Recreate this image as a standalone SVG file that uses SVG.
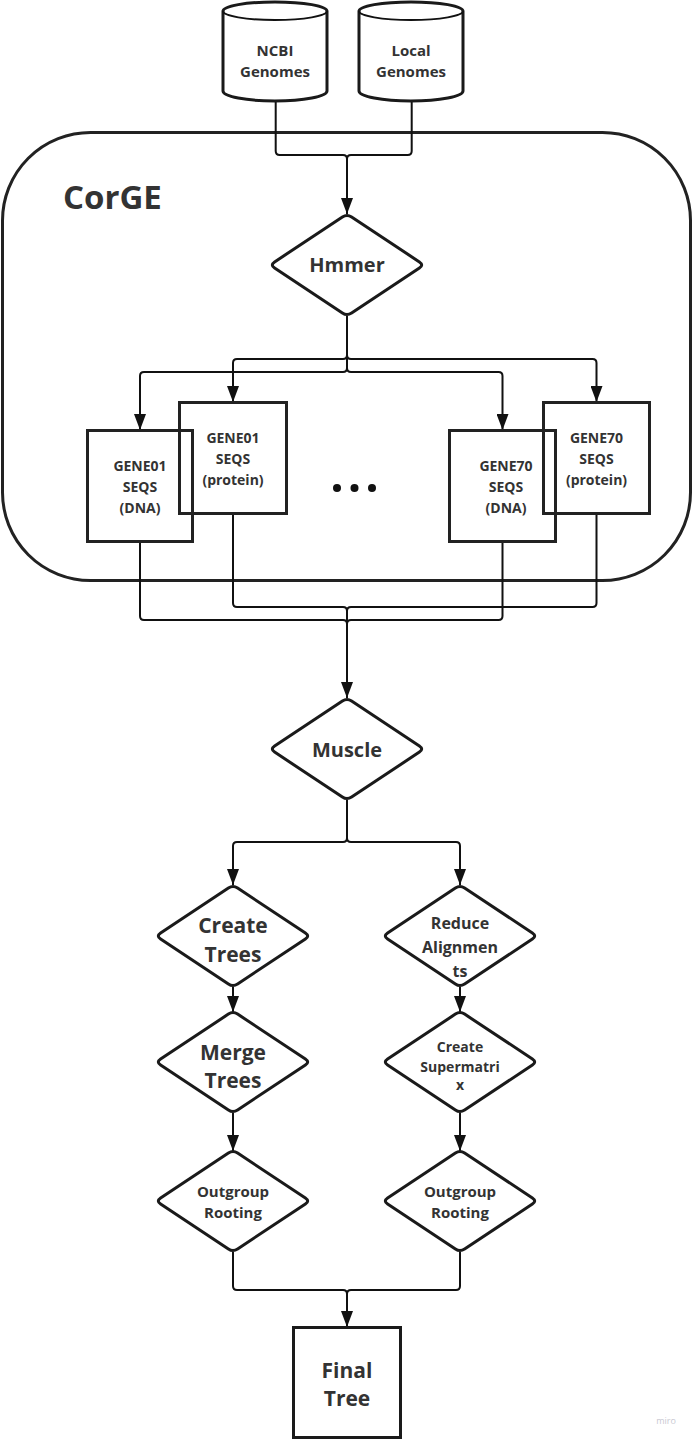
<svg xmlns="http://www.w3.org/2000/svg" xmlns:xlink="http://www.w3.org/1999/xlink" width="694" height="1440" viewBox="0 0 694 1440">
  <style>
    .shape { fill: none; stroke: #222; stroke-width: 3; }
    .filled { fill: #fff; stroke: #1a1a1a; stroke-width: 3; }
    .conn { fill: none; stroke: #111; stroke-width: 2; }
    .lbl { font-family: "Open Sans", "Liberation Sans", sans-serif; font-weight: 700; fill: #333; text-anchor: middle; }
    .s14 { font-size: 14px; }
    .s15 { font-size: 15px; }
    .s16 { font-size: 16px; }
    .s20 { font-size: 20px; }
    .s21 { font-size: 21px; }
  </style>
  <defs>
    <!-- decision shape with softened corners, centred on the origin -->
    <path id="dia" d="M4.6,-47.9 L72.4,-3.1 Q77,0 72.4,3.1 L4.6,47.9 Q0,51 -4.6,47.9 L-72.4,3.1 Q-77,0 -72.4,-3.1 L-4.6,-47.9 Q0,-51 4.6,-47.9 Z"/>
    <marker id="arrow" viewBox="0 0 16 12" refX="16" refY="6" markerWidth="16" markerHeight="12" markerUnits="userSpaceOnUse" orient="auto">
      <path d="M0,0 L16,6 L0,12 Z" fill="#111"/>
    </marker>
  </defs>

  <rect width="694" height="1440" fill="#fff"/>

  <!-- CorGE container -->
  <g id="corge">
    <rect x="2.5" y="132.5" width="688" height="448" rx="88" ry="88" class="shape" stroke="#1a1a1a"/>
    <text x="63" y="209" class="lbl" style="font-size:33px;text-anchor:start;">CorGE</text>
  </g>

  <!-- connectors -->
  <g id="connectors">
    <!-- genome sources into Hmmer -->
    <path class="conn" d="M275.7,102 V151 Q275.7,155 279.7,155 H343 Q347,155 347,159"/>
    <path class="conn" d="M411.7,102 V151 Q411.7,155 407.7,155 H351 Q347,155 347,159"/>
    <path class="conn" d="M347,159 V214" marker-end="url(#arrow)"/>
    <!-- Hmmer fan-out to gene sequence sets -->
    <path class="conn" d="M347,316 V355 Q347,359 343,359 H237 Q233,359 233,363 V402" marker-end="url(#arrow)"/>
    <path class="conn" d="M347,316 V368 Q347,372 343,372 H144 Q140,372 140,376 V430" marker-end="url(#arrow)"/>
    <path class="conn" d="M347,316 V355 Q347,359 351,359 H592.5 Q596.5,359 596.5,363 V402" marker-end="url(#arrow)"/>
    <path class="conn" d="M347,316 V368 Q347,372 351,372 H498.5 Q502.5,372 502.5,376 V430" marker-end="url(#arrow)"/>
    <!-- gene sequence sets into Muscle -->
    <path class="conn" d="M140,542 V616 Q140,620 144,620 H343 Q347,620 347,624"/>
    <path class="conn" d="M502.5,542 V616 Q502.5,620 498.5,620 H351 Q347,620 347,624"/>
    <path class="conn" d="M233,514 V603 Q233,607 237,607 H343 Q347,607 347,611"/>
    <path class="conn" d="M596.5,514 V603 Q596.5,607 592.5,607 H351 Q347,607 347,611"/>
    <path class="conn" d="M347,611 V698" marker-end="url(#arrow)"/>
    <!-- Muscle split into the two tree pipelines -->
    <path class="conn" d="M347,800 V838 Q347,842 343,842 H237 Q233,842 233,846 V885" marker-end="url(#arrow)"/>
    <path class="conn" d="M347,800 V838 Q347,842 351,842 H456 Q460,842 460,846 V885" marker-end="url(#arrow)"/>
    <path class="conn" d="M233,987 V1012" marker-end="url(#arrow)"/>
    <path class="conn" d="M460,987 V1012" marker-end="url(#arrow)"/>
    <path class="conn" d="M233,1113 V1151" marker-end="url(#arrow)"/>
    <path class="conn" d="M460,1113 V1151" marker-end="url(#arrow)"/>
    <!-- rooted trees into the final tree -->
    <path class="conn" d="M233,1252 V1286 Q233,1290 237,1290 H343 Q347,1290 347,1294"/>
    <path class="conn" d="M460,1252 V1286 Q460,1290 456,1290 H351 Q347,1290 347,1294"/>
    <path class="conn" d="M347,1294 V1327" marker-end="url(#arrow)"/>
  </g>

  <!-- genome sources -->
  <g id="ncbi-genomes">
    <path class="filled" d="M223,11 A52,9 0 0,1 327,11 V91 A52,10 0 0,1 223,91 Z"/>
    <path class="conn" stroke-width="3" stroke="#1a1a1a" d="M223,11 A52,9 0 0,0 327,11"/>
    <text x="275" y="56" class="lbl s15">NCBI</text>
    <text x="275" y="77" class="lbl s15">Genomes</text>
  </g>
  <g id="local-genomes">
    <path class="filled" d="M359,11 A52,9 0 0,1 463,11 V91 A52,10 0 0,1 359,91 Z"/>
    <path class="conn" stroke-width="3" stroke="#1a1a1a" d="M359,11 A52,9 0 0,0 463,11"/>
    <text x="411" y="56" class="lbl s15">Local</text>
    <text x="411" y="77" class="lbl s15">Genomes</text>
  </g>

  <g id="hmmer">
    <use xlink:href="#dia" href="#dia" transform="translate(347,265)" class="filled"/>
    <text x="347" y="272" class="lbl s20">Hmmer</text>
  </g>

  <!-- per-gene sequence sets -->
  <g id="gene01-dna">
    <rect x="87.5" y="430.5" width="105" height="111" class="shape"/>
    <text x="140" y="471" class="lbl s14">GENE01</text>
    <text x="140" y="492" class="lbl s14">SEQS</text>
    <text x="140" y="513" class="lbl s14">(DNA)</text>
  </g>
  <g id="gene01-protein">
    <rect x="179.5" y="402.5" width="107" height="111" class="shape"/>
    <text x="233" y="443" class="lbl s14">GENE01</text>
    <text x="233" y="464" class="lbl s14">SEQS</text>
    <text x="233" y="485" class="lbl s14">(protein)</text>
  </g>
  <g id="ellipsis">
    <circle cx="337" cy="488" r="4" fill="#111"/>
    <circle cx="354.5" cy="488" r="4" fill="#111"/>
    <circle cx="372" cy="488" r="4" fill="#111"/>
  </g>
  <g id="gene70-dna">
    <rect x="449.5" y="430.5" width="106" height="111" class="shape"/>
    <text x="506" y="471" class="lbl s14">GENE70</text>
    <text x="506" y="492" class="lbl s14">SEQS</text>
    <text x="506" y="513" class="lbl s14">(DNA)</text>
  </g>
  <g id="gene70-protein">
    <rect x="543.5" y="402.5" width="106" height="111" class="shape"/>
    <text x="596.5" y="443" class="lbl s14">GENE70</text>
    <text x="596.5" y="464" class="lbl s14">SEQS</text>
    <text x="596.5" y="485" class="lbl s14">(protein)</text>
  </g>

  <g id="muscle">
    <use xlink:href="#dia" href="#dia" transform="translate(347,749)" class="filled"/>
    <text x="347" y="757" class="lbl s20">Muscle</text>
  </g>

  <g id="create-trees">
    <use xlink:href="#dia" href="#dia" transform="translate(233,936)" class="filled"/>
    <text x="233" y="933" class="lbl s21">Create</text>
    <text x="233" y="962" class="lbl s21">Trees</text>
  </g>
  <g id="reduce-alignments">
    <use xlink:href="#dia" href="#dia" transform="translate(460,936)" class="filled"/>
    <text x="460" y="929" class="lbl s16">Reduce</text>
    <text x="460" y="953" class="lbl s16">Alignmen</text>
    <text x="460" y="977" class="lbl s16">ts</text>
  </g>
  <g id="merge-trees">
    <use xlink:href="#dia" href="#dia" transform="translate(233,1062)" class="filled"/>
    <text x="233" y="1060" class="lbl s21">Merge</text>
    <text x="233" y="1088" class="lbl s21">Trees</text>
  </g>
  <g id="create-supermatrix">
    <use xlink:href="#dia" href="#dia" transform="translate(460,1062)" class="filled"/>
    <text x="460" y="1052" class="lbl s14">Create</text>
    <text x="460" y="1072" class="lbl s14">Supermatri</text>
    <text x="460" y="1090" class="lbl s14">x</text>
  </g>
  <g id="outgroup-rooting-trees">
    <use xlink:href="#dia" href="#dia" transform="translate(233,1201)" class="filled"/>
    <text x="233" y="1197" class="lbl s15">Outgroup</text>
    <text x="233" y="1218" class="lbl s15">Rooting</text>
  </g>
  <g id="outgroup-rooting-matrix">
    <use xlink:href="#dia" href="#dia" transform="translate(460,1201)" class="filled"/>
    <text x="460" y="1197" class="lbl s15">Outgroup</text>
    <text x="460" y="1218" class="lbl s15">Rooting</text>
  </g>

  <g id="final-tree">
    <rect x="293.5" y="1327.5" width="107" height="110" class="filled"/>
    <text x="347" y="1378" class="lbl s21">Final</text>
    <text x="347" y="1406" class="lbl s21">Tree</text>
  </g>

  <text x="666" y="1424" style="font-family:'Open Sans','Liberation Sans',sans-serif;font-size:9px;fill:#c9c9d2;text-anchor:middle;">miro</text>
</svg>
